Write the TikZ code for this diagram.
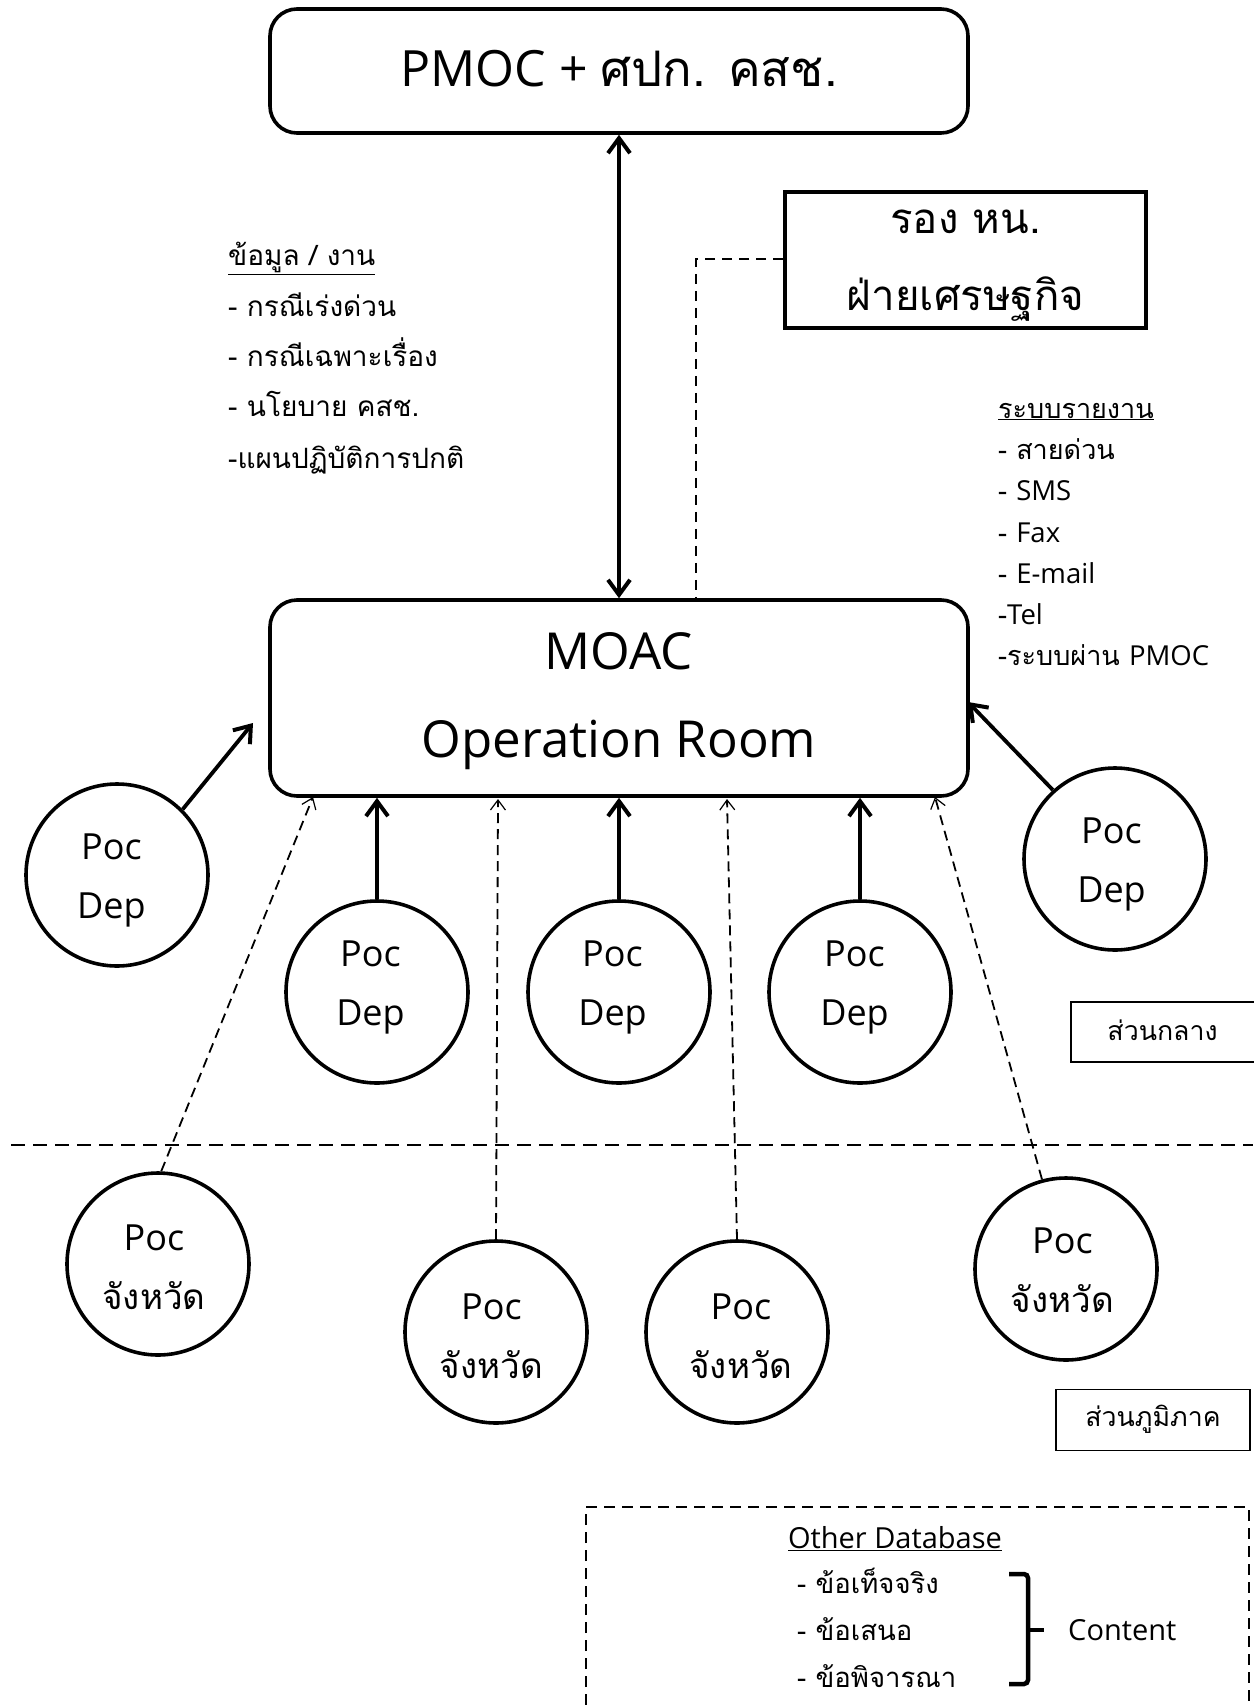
\documentclass[tikz,border=0pt]{standalone}
\usepackage{fontspec}
\setmainfont{Open Sans}
\newfontfamily\thai[Script=Thai]{Loma}
\usetikzlibrary{arrows.meta}
\tikzset{
  x=1pt,y=-1pt,
  barb/.tip={Straight Barb[length=15pt,width=22pt,line width=4pt]},
  roundbox/.style={draw,line width=3.6pt,rounded corners=27pt,inner sep=0pt,align=center},
  poc/.style={draw,circle,line width=3.6pt,minimum size=182pt,inner sep=0pt},
  poctext/.style={align=center,inner sep=0pt,font=\fontsize{36}{59}\selectfont},
  pocdep/.style 2 args={poc,label={[poctext,xshift=#1,yshift=#2]center:Poc\\Dep}},
  pocjw/.style 2 args={poc,label={[poctext,xshift=#1,yshift=#2]center:Poc\\{\thai\fontsize{35}{59}\selectfont จังหวัด}}},
  solidarrow/.style={line width=3.8pt,-barb},
  dasharrow/.style={line width=1.8pt,dash pattern=on 10pt off 6pt,-{Straight Barb[length=10pt,width=15pt,line width=1.2pt]}},
  dashline/.style={line width=1.9pt,dash pattern=on 10pt off 7pt},
  sepline/.style={line width=2.4pt,dash pattern=on 14pt off 8pt},
  dbline/.style={line width=2.2pt,dash pattern=on 11pt off 7pt},
  listl/.style={anchor=base west,inner sep=0pt,font=\thai\fontsize{28}{32}\selectfont},
  listr/.style={anchor=base west,inner sep=0pt,font=\thai\fontsize{27}{32}\selectfont},
  listdb/.style={anchor=base west,inner sep=0pt,font=\thai\fontsize{27.5}{32}\selectfont},
  areabox/.style={draw,line width=1.4pt,inner sep=0pt,font=\thai\fontsize{26.7}{30}\selectfont},
}
\newcommand{\lat}[1]{{\rmfamily\fontsize{27.5}{30}\selectfont #1}}
\newcommand{\nudge}[2]{\raisebox{#1}[\height][\depth]{#2}}
\begin{document}
\begin{tikzpicture}
\useasboundingbox (0,0) rectangle (1253,1705);
% boxes
\node[roundbox,minimum width=698pt,minimum height=124pt,font=\fontsize{50}{56}\selectfont] (pmoc) at (619,71) {\nudge{2pt}{PMOC + {\thai\fontsize{49}{56}\selectfont ศปก. คสช.}}};
\node[roundbox,minimum width=698pt,minimum height=196pt,font=\fontsize{51}{88}\selectfont] (moac) at (619,698) {\nudge{-3pt}{MOAC}\\\nudge{-3pt}{Operation Room}};
\node[draw,line width=3.6pt,minimum width=361pt,minimum height=136pt,inner sep=0pt,align=center,font=\thai\fontsize{42}{78}\selectfont] (deputy) at (965.5,260) {\nudge{-6pt}{รอง หน.}\\\nudge{-5pt}{ฝ่ายเศรษฐกิจ}};
% circles
\node[pocdep={-5.5pt}{-5pt}] (d1) at (117,875) {};
\node[pocdep={-6.5pt}{4.5pt}] (d2) at (377,992) {};
\node[pocdep={-6.5pt}{4.5pt}] (d3) at (619,992) {};
\node[pocdep={-5.5pt}{4.5pt}] (d4) at (860,992) {};
\node[pocdep={-3.5pt}{-5pt}] (d5) at (1115,859) {};
\node[pocjw={-4pt}{-3.5pt}] (p1) at (158,1264) {};
\node[pocjw={-4.5pt}{-4pt}] (p2) at (496,1332) {};
\node[pocjw={4pt}{-4pt}] (p3) at (737,1332) {};
\node[pocjw={-3.5pt}{-1pt}] (p4) at (1066,1269) {};
% free ends
\coordinate (e1) at (253,723);
\coordinate (e5) at (968,702);
\coordinate (t1) at (313,797);
\coordinate (t2) at (498,799);
\coordinate (t3) at (727,799);
\coordinate (t4) at (935,797);
\coordinate (bend) at (696,259);
\coordinate (sl) at (11,1145);
\coordinate (sr) at (1253,1145);
% connectors
\draw[line width=3.8pt,barb-barb] (pmoc.south -| moac.north) -- (moac.north);
\draw[dashline] (deputy.west |- bend) -- (bend) -- (bend |- moac.north);
\draw[solidarrow] (d1.45) -- (e1);
\draw[solidarrow] (d5.132) -- (e5);
\draw[solidarrow] (d2.north) -- (d2.north |- moac.south);
\draw[solidarrow] (d3.north) -- (d3.north |- moac.south);
\draw[solidarrow] (d4.north) -- (d4.north |- moac.south);
\draw[dasharrow] (p1.88) -- (t1);
\draw[dasharrow] (p2.north) -- (t2);
\draw[dasharrow] (p3.north) -- (t3);
\draw[dasharrow] (p4.105) -- (t4);
\draw[sepline] (sl) -- (sr);
% left list
\node[listl] (l0) at (228,265) {\underline{ข้อมูล / งาน}};
\node[listl] (l1) at (228,316) {- กรณีเร่งด่วน};
\node[listl] (l2) at (228,366) {- กรณีเฉพาะเรื่อง};
\node[listl] (l3) at (228,416) {- นโยบาย คสช.};
\node[listl] (l4) at (228,468) {-แผนปฏิบัติการปกติ};
% right list
\node[listr] (r0) at (998,418) {\underline{ระบบรายงาน}};
\node[listr] (r1) at (998,459) {- สายด่วน};
\node[listr] (r2) at (998,500) {- \lat{SMS}};
\node[listr] (r3) at (998,542) {- \lat{Fax}};
\node[listr] (r4) at (998,583) {- \lat{E-mail}};
\node[listr] (r5) at (998,624) {-\lat{Tel}};
\node[listr] (r6) at (998,665) {-ระบบผ่าน \lat{PMOC}};
% area labels
\node[areabox,minimum width=184pt,minimum height=60pt] (central) at (1163,1032) {\nudge{2pt}{\hspace*{-1pt}ส่วนกลาง}};
\node[areabox,minimum width=194pt,minimum height=61pt] (region) at (1153,1420) {\nudge{1pt}{ส่วนภูมิภาค}};
% database
\draw[dbline] (586,1705) -- (586,1507) -- (1249,1507) -- (1249,1705);
\node[anchor=base,inner sep=0pt,font=\fontsize{29}{30}\selectfont] (db) at (895,1548) {\underline{Other Database}};
\node[listdb] (f1) at (797,1593) {- ข้อเท็จจริง};
\node[listdb] (f2) at (797,1640) {- ข้อเสนอ};
\node[listdb] (f3) at (797,1687) {- ข้อพิจารณา};
\coordinate (bt) at (1009,1574);
\coordinate (bb) at (1009,1684);
\coordinate (bm) at (1028,1630);
\coordinate (bx) at (1044,1630);
\draw[line width=4.5pt,rounded corners=4pt] (bt) -- (bt -| bm) -- (bb -| bm) -- (bb);
\node[inner sep=0pt,anchor=base west,font=\fontsize{29}{30}\selectfont] (content) at (1068,1640) {Content};
\draw[line width=4.5pt] (bm) -- (bx);
\end{tikzpicture}
\end{document}
